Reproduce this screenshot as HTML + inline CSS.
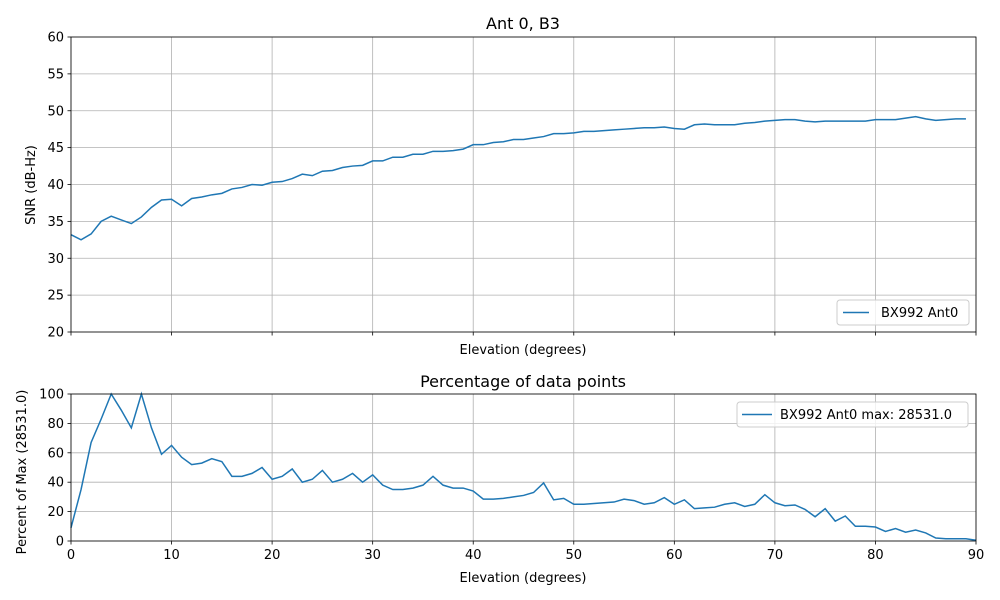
<!DOCTYPE html>
<html><head><meta charset="utf-8"><style>
html,body{margin:0;padding:0;background:#fff;}
svg{display:block;font-family:"DejaVu Sans","Liberation Sans",sans-serif;}
</style></head><body>
<svg id="s" width="1000" height="600" xmlns="http://www.w3.org/2000/svg"></svg>
<script>
const s=document.getElementById('s');
let h='';
const X0=71,X1=976;
const xp=d=>X0+(X1-X0)*d/90;
const snr=[33.2,32.5,33.3,35,35.7,35.2,34.7,35.6,36.9,37.9,38,37.1,38.1,38.3,38.6,38.8,39.4,39.6,40,39.9,40.3,40.4,40.8,41.4,41.2,41.8,41.9,42.3,42.5,42.6,43.2,43.2,43.7,43.7,44.1,44.1,44.5,44.5,44.6,44.8,45.4,45.4,45.7,45.8,46.1,46.1,46.3,46.5,46.9,46.9,47,47.2,47.2,47.3,47.4,47.5,47.6,47.7,47.7,47.8,47.6,47.5,48.1,48.2,48.1,48.1,48.1,48.3,48.4,48.6,48.7,48.8,48.8,48.6,48.5,48.6,48.6,48.6,48.6,48.6,48.8,48.8,48.8,49,49.2,48.9,48.7,48.8,48.9,48.9];
const pct=[9,35,67,83,100,89,77,100,77,59,65,57,52,53,56,54,44,44,46,50,42,44,49,40,42,48,40,42,46,40,45,38,35,35,36,38,44,38,36,36,34,28.5,28.5,29,30,31,33,39.5,28,29,25,25,25.5,26,26.5,28.5,27.5,25,26,29.5,25,28,22,22.5,23,25,26,23.5,25,31.5,26,24,24.5,21.5,16.5,22,13.5,17,10,10,9.5,6.5,8.5,6,7.5,5.5,2,1.5,1.5,1.5,0.5];
const T0=37,T1=332, ty=v=>T1-(v-20)*(T1-T0)/40;
for(let d=0;d<=90;d+=10){h+=`<line x1="${xp(d)}" y1="${T0}" x2="${xp(d)}" y2="${T1}" stroke="#b0b0b0" stroke-width="0.8"/>`;h+=`<line x1="${xp(d)}" y1="${T1}" x2="${xp(d)}" y2="${T1+3.5}" stroke="#000" stroke-width="0.8"/>`;}
for(let v=20;v<=60;v+=5){const y=ty(v);h+=`<line x1="${X0}" y1="${y}" x2="${X1}" y2="${y}" stroke="#b0b0b0" stroke-width="0.8"/><line x1="${X0-3.5}" y1="${y}" x2="${X0}" y2="${y}" stroke="#000" stroke-width="0.8"/><text x="${X0-7}" y="${y+4.5}" font-size="13" text-anchor="end">${v}</text>`;}
h+=`<polyline fill="none" stroke="#1f77b4" stroke-width="1.5" points="${snr.map((v,i)=>xp(i)+','+ty(v)).join(' ')}"/>`;
h+=`<rect x="${X0}" y="${T0}" width="${X1-X0}" height="${T1-T0}" fill="none" stroke="#000" stroke-width="0.8"/>`;
h+=`<text x="523" y="29" font-size="16" text-anchor="middle">Ant 0, B3</text>`;
h+=`<text x="523" y="354" font-size="13" text-anchor="middle">Elevation (degrees)</text>`;
h+=`<text transform="translate(35,185) rotate(-90)" font-size="13" text-anchor="middle">SNR (dB-Hz)</text>`;
h+=`<rect x="837" y="300" width="132" height="25" rx="3" fill="#fff" fill-opacity="0.8" stroke="#ccc"/><line x1="843" y1="312.5" x2="869" y2="312.5" stroke="#1f77b4" stroke-width="1.5"/><text x="881" y="317" font-size="13">BX992 Ant0</text>`;
const B0=394,B1=541, by=v=>B1-v*(B1-B0)/100;
for(let d=0;d<=90;d+=10){h+=`<line x1="${xp(d)}" y1="${B0}" x2="${xp(d)}" y2="${B1}" stroke="#b0b0b0" stroke-width="0.8"/><line x1="${xp(d)}" y1="${B1}" x2="${xp(d)}" y2="${B1+3.5}" stroke="#000" stroke-width="0.8"/><text x="${xp(d)}" y="${B1+18}" font-size="13" text-anchor="middle">${d}</text>`;}
for(let v=0;v<=100;v+=20){const y=by(v);h+=`<line x1="${X0}" y1="${y}" x2="${X1}" y2="${y}" stroke="#b0b0b0" stroke-width="0.8"/><line x1="${X0-3.5}" y1="${y}" x2="${X0}" y2="${y}" stroke="#000" stroke-width="0.8"/><text x="${X0-7}" y="${y+4.5}" font-size="13" text-anchor="end">${v}</text>`;}
h+=`<polyline fill="none" stroke="#1f77b4" stroke-width="1.5" points="${pct.map((v,i)=>xp(i)+','+by(v)).join(' ')}"/>`;
h+=`<rect x="${X0}" y="${B0}" width="${X1-X0}" height="${B1-B0}" fill="none" stroke="#000" stroke-width="0.8"/>`;
h+=`<text x="523" y="387" font-size="16" text-anchor="middle">Percentage of data points</text>`;
h+=`<text x="523" y="582" font-size="13" text-anchor="middle">Elevation (degrees)</text>`;
h+=`<text transform="translate(26,472) rotate(-90)" font-size="13" text-anchor="middle">Percent of Max (28531.0)</text>`;
h+=`<rect x="737" y="402" width="231" height="25" rx="3" fill="#fff" fill-opacity="0.8" stroke="#ccc"/><line x1="742" y1="414.5" x2="772" y2="414.5" stroke="#1f77b4" stroke-width="1.5"/><text x="780" y="419" font-size="13">BX992 Ant0 max: 28531.0</text>`;
s.innerHTML=h;
</script>
</body></html>
